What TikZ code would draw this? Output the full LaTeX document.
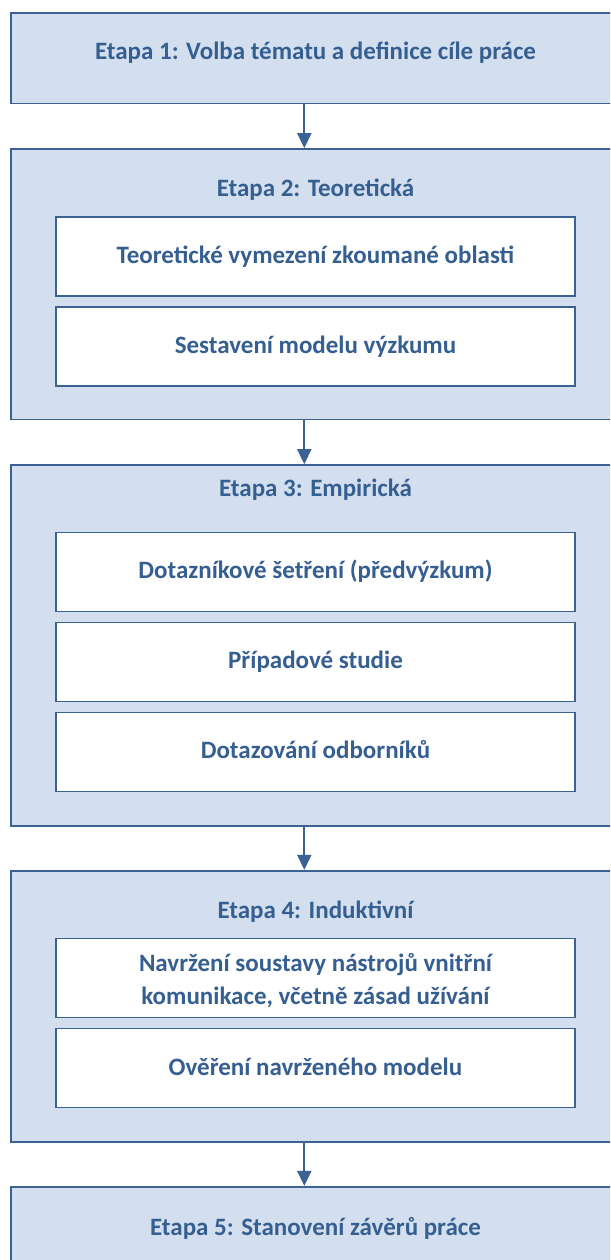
\documentclass[tikz,border=0pt]{standalone}
\usepackage{fontspec}
\setmainfont{Carlito}
\usetikzlibrary{arrows.meta}
\definecolor{stagefill}{HTML}{D3DFEE}
\definecolor{stageline}{HTML}{3B6293}
\definecolor{stagetext}{HTML}{365F91}
\tikzset{
  stage/.style={draw=stageline, fill=stagefill, line width=1.6pt,
    minimum width=609pt, inner sep=0pt},
  task/.style={draw=stageline, fill=white, line width=1.6pt,
    minimum width=519pt, minimum height=79pt, inner sep=0pt},
  lbl/.style={anchor=base, inner sep=0pt, text=stagetext,
    font=\fontsize{25pt}{33pt}\selectfont\bfseries},
  flow/.style={draw=stageline, line width=1.8pt,
    -{Triangle[width=14pt,length=15pt]}}
}
\begin{document}
\begin{tikzpicture}[x=1pt,y=-1pt]
  \path[use as bounding box] (0,0) rectangle (610,1260);
  \fill[white] (0,0) rectangle (610,1260);
  \clip (0,0) rectangle (610,1260);

  % stage frames (they run past the right and bottom edges)
  \node[stage, minimum height=90.4pt]  (b1) at (315.5,58.5)   {};
  \node[stage, minimum height=270.5pt] (b2) at (315.5,284.25) {};
  \node[stage, minimum height=360.7pt] (b3) at (315.5,645.35) {};
  \node[stage, minimum height=271pt]   (b4) at (315.5,1006.2) {};
  \node[stage, minimum height=90.4pt]  (b5) at (315.5,1231.9) {};

  % tasks inside the stages
  \node[task] (i21) at (315.5,256.2) {};
  \node[task] (i22) at (315.5,346.3) {};
  \node[task] (i31) at (315.5,571.8) {};
  \node[task] (i32) at (315.5,661.8) {};
  \node[task] (i33) at (315.5,751.8) {};
  \node[task] (i41) at (315.5,977.9) {};
  \node[task] (i42) at (315.5,1068)  {};

  % stage titles
  \node[lbl] (t1) at (315.5,60)    {Etapa 1: Volba tématu a definice cíle práce};
  \node[lbl] (t2) at (315.5,196.6) {Etapa 2: Teoretická};
  \node[lbl] (t3) at (315.5,496)   {Etapa 3: Empirická};
  \node[lbl] (t4) at (315.5,918.7) {Etapa 4: Induktivní};
  \node[lbl] (t5) at (315.5,1235.5) {Etapa 5: Stanovení závěrů práce};

  % task texts
  \node[lbl] (l21) at (315.5,263.2) {Teoretické vymezení zkoumané oblasti};
  \node[lbl] (l22) at (315.5,353.3) {Sestavení modelu výzkumu};
  \node[lbl] (l31) at (315.5,578.8) {Dotazníkové šetření (předvýzkum)};
  \node[lbl] (l32) at (315.5,668.8) {Případové studie};
  \node[lbl] (l33) at (315.5,758.8) {Dotazování odborníků};
  \node[lbl] (l41a) at (315.5,971.5) {Navržení soustavy nástrojů vnitřní};
  \node[lbl] (l41b) at (315.5,1004.5) {komunikace, včetně zásad užívání};
  \node[lbl] (l42) at (315.5,1075)  {Ověření navrženého modelu};

  % flow between the stages
  \draw[flow] ([xshift=-11.2pt]b1.south) -- ([xshift=-11.2pt]b2.north);
  \draw[flow] ([xshift=-11.2pt]b2.south) -- ([xshift=-11.2pt]b3.north);
  \draw[flow] ([xshift=-11.2pt]b3.south) -- ([xshift=-11.2pt]b4.north);
  \draw[flow] ([xshift=-11.2pt]b4.south) -- ([xshift=-11.2pt]b5.north);
\end{tikzpicture}
\end{document}
